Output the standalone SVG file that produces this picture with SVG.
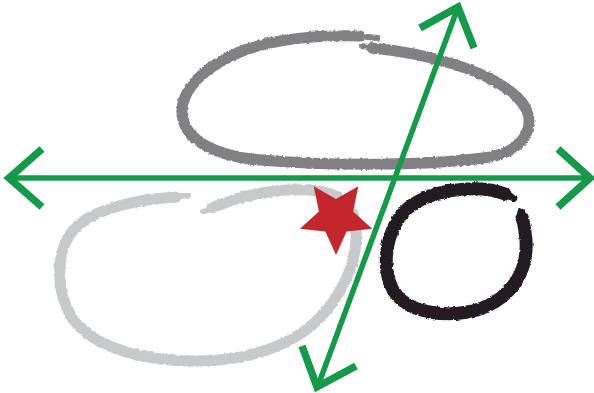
<svg xmlns="http://www.w3.org/2000/svg" width="594" height="393" viewBox="0 0 594 393">
<style>
.brush{fill:none;stroke-linecap:round;stroke-linejoin:round;filter:url(#rough)}
.shaft{stroke:#16994a;stroke-width:5.5;fill:none}
.head{stroke:#16994a;stroke-width:7.5;fill:none;stroke-linejoin:miter;stroke-miterlimit:10;stroke-linecap:butt}
</style>
<defs>
<filter id="rough" x="-10%" y="-10%" width="120%" height="120%">
<feTurbulence type="fractalNoise" baseFrequency="0.3" numOctaves="2" seed="4" result="n"/>
<feDisplacementMap in="SourceGraphic" in2="n" scale="3" xChannelSelector="R" yChannelSelector="G"/>
</filter>
</defs>
<rect width="594" height="393" fill="#ffffff"/>
<g id="ellipse-top">
<path class="brush" stroke="#818184" stroke-width="11" d="M 372,48 C 425,53 490,70 518,98 C 540,120 528,150 490,157 C 430,166 330,166 260,160 C 215,156 185,140 182,115 C 180,90 205,65 245,50 C 280,38 320,35 360,36"/>
<path class="brush" stroke="#818184" stroke-width="6" d="M 362,46 L 376,48 M 358,36 L 378,38"/>
</g>
<g id="blob-left">
<path class="brush" stroke="#c8c9cb" stroke-width="11" d="M 176,197 C 140,199 95,208 75,228 C 55,250 55,290 72,318 C 95,350 150,362 200,361 C 255,360 300,342 325,312 C 348,285 358,255 356,228 C 354,205 340,192 310,190 C 270,188 235,198 212,208"/>
<path class="brush" stroke="#c8c9cb" stroke-width="6" d="M 188,195 L 172,197 M 216,206 L 203,212"/>
</g>
<g id="circle-black">
<path class="brush" stroke="#231f20" stroke-width="13" d="M 505,194 C 485,186 440,186 412,205 C 386,224 380,265 393,290 C 408,315 450,318 480,309 C 513,297 528,270 526,240 C 525,230 524,223 522,218"/>
<path class="brush" stroke="#231f20" stroke-width="7" d="M 500,192 L 514,198 M 523,222 L 521,212"/>
</g>
<g id="star">
<polygon fill="#c1272d" points="336,255 325.4,231.6 299.9,228.7 318.9,211.5 313.7,186.3 336,199 358.3,186.3 353.1,211.5 372.1,228.7 346.6,231.6"/>
</g>
<g id="connectors">
<line class="shaft" x1="9" y1="178" x2="590" y2="178"/>
<polyline class="head" points="42,149 9,178 42,207"/>
<polyline class="head" points="558,149 590,178 558,207"/>
<line class="shaft" x1="457" y1="10" x2="319" y2="383"/>
<polyline class="head" points="420,28 458,7 474,48"/>
<polyline class="head" points="302,346 317,387 356,366"/>
</g>
</svg>
